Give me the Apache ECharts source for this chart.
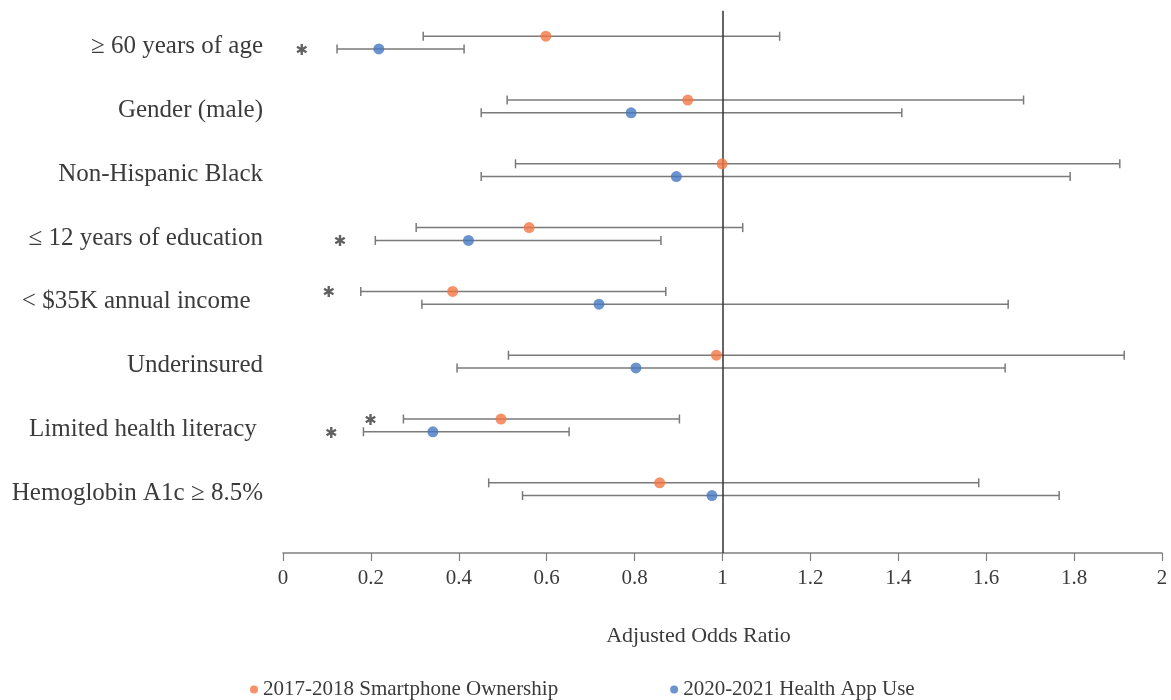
<!DOCTYPE html>
<html>
<head>
<meta charset="utf-8">
<script src="https://cdn.jsdelivr.net/npm/echarts@6/dist/echarts.min.js"></script>
<style>
  html, body { margin: 0; padding: 0; background: #fff; }
  #chart { width: 1171px; height: 700px; }
</style>
</head>
<body>
<div id="chart"></div>
<script>
// rows, top to bottom
const categories = [
  '\u2265 60 years of age',
  'Gender (male)',
  'Non-Hispanic Black',
  '\u2264 12 years of education',
  '< $35K annual income  ',
  'Underinsured',
  'Limited health literacy ',
  'Hemoglobin A1c \u2265 8.5%'
];

// 2017-2018 smartphone ownership: odds ratio, lower CI, upper CI
const phoneOR = [0.598, 0.921, 0.999, 0.560, 0.386, 0.986, 0.496, 0.857];
const phoneLo = [0.319, 0.510, 0.529, 0.303, 0.177, 0.513, 0.274, 0.468];
const phoneHi = [1.130, 1.685, 1.904, 1.046, 0.871, 1.914, 0.902, 1.583];

// 2020-2021 health app use
const appOR = [0.218, 0.792, 0.895, 0.422, 0.719, 0.803, 0.341, 0.976];
const appLo = [0.123, 0.451, 0.451, 0.210, 0.316, 0.396, 0.183, 0.545];
const appHi = [0.412, 1.408, 1.791, 0.860, 1.650, 1.643, 0.651, 1.766];

// significance markers: [x position, row index, which series]
const stars = [
  [0.043, 0, 'app'],
  [0.130, 3, 'app'],
  [0.104, 4, 'phone'],
  [0.199, 6, 'phone'],
  [0.110, 6, 'app']
];

const seriesNames = ['2017-2018 Smartphone Ownership', '2020-2021 Health App Use'];
const xTicks = ['0', '0.2', '0.4', '0.6', '0.8', '1', '1.2', '1.4', '1.6', '1.8', '2'];

const FONT = '"Liberation Serif", "Times New Roman", serif';
const TXT = '#3b3b3b';
const ORANGE = '#f47744';
const BLUE = '#4679c2';
const BAR = '#7a7a7a';
const OFFSET = 0.1;

const n = categories.length;
const rowY = i => n - i;

function barData(lo, hi, off) {
  return lo.map((l, i) => [l, hi[i], rowY(i) + off]);
}
function dotData(or, off) {
  return or.map((v, i) => [v, rowY(i) + off]);
}

function renderBar(params, api) {
  const lo = api.coord([api.value(0), api.value(2)]);
  const hi = api.coord([api.value(1), api.value(2)]);
  const cap = 4.5;
  const style = { stroke: BAR, lineWidth: 1.5 };
  return {
    type: 'group',
    children: [
      { type: 'line', shape: { x1: lo[0], y1: lo[1], x2: hi[0], y2: hi[1] }, style: style },
      { type: 'line', shape: { x1: lo[0], y1: lo[1] - cap, x2: lo[0], y2: lo[1] + cap }, style: style },
      { type: 'line', shape: { x1: hi[0], y1: hi[1] - cap, x2: hi[0], y2: hi[1] + cap }, style: style }
    ]
  };
}

const chart = echarts.init(document.getElementById('chart'));

const option = {
  animation: false,
  grid: { left: 283, right: 9, top: 10.7, bottom: 147 },
  legend: {
    data: seriesNames,
    left: 245,
    top: 674,
    icon: 'circle',
    itemWidth: 8,
    itemHeight: 8,
    itemGap: 112,
    textStyle: { fontFamily: FONT, fontSize: 21, color: TXT }
  },
  xAxis: {
    type: 'value',
    min: 0,
    max: 2,
    interval: 0.2,
    name: 'Adjusted Odds Ratio',
    nameLocation: 'middle',
    nameGap: 72,
    nameTextStyle: { fontFamily: FONT, fontSize: 22, color: TXT, padding: [0, 48, 0, 0] },
    axisLine: { lineStyle: { color: '#808080', width: 1.5 } },
    axisTick: { show: true, length: 8, lineStyle: { color: '#808080', width: 1.2 } },
    axisLabel: {
      margin: 15,
      fontFamily: FONT,
      fontSize: 21,
      color: TXT,
      formatter: v => xTicks[Math.round(v * 5)]
    },
    splitLine: { show: false }
  },
  yAxis: {
    type: 'value',
    min: 0,
    max: n + 0.5,
    interval: 1,
    axisLine: { show: false },
    axisTick: { show: false },
    splitLine: { show: false },
    axisLabel: {
      margin: 20,
      fontFamily: FONT,
      fontSize: 25,
      color: TXT,
      verticalAlign: 'top',
      lineHeight: 8,
      formatter: v => (Number.isInteger(v) && v >= 1 && v <= n) ? categories[n - v] : ''
    }
  },
  series: [
    {
      name: 'phoneCI',
      type: 'custom',
      renderItem: renderBar,
      encode: { x: [0, 1], y: 2 },
      data: barData(phoneLo, phoneHi, OFFSET),
      z: 2,
      markLine: {
        silent: true,
        symbol: 'none',
        label: { show: false },
        lineStyle: { color: '#333', width: 1.5, type: 'solid' },
        data: [{ xAxis: 1 }]
      }
    },
    {
      name: 'appCI',
      type: 'custom',
      renderItem: renderBar,
      encode: { x: [0, 1], y: 2 },
      data: barData(appLo, appHi, -OFFSET),
      z: 2
    },
    {
      name: seriesNames[0],
      type: 'scatter',
      symbolSize: 11,
      itemStyle: { color: ORANGE },
      data: dotData(phoneOR, OFFSET),
      z: 5
    },
    {
      name: seriesNames[1],
      type: 'scatter',
      symbolSize: 11,
      itemStyle: { color: BLUE },
      data: dotData(appOR, -OFFSET),
      z: 5
    },
    {
      name: 'stars',
      type: 'scatter',
      symbolSize: 1,
      itemStyle: { color: 'rgba(0,0,0,0)' },
      data: stars.map(s => [s[0], rowY(s[1]) + (s[2] === 'phone' ? OFFSET : -OFFSET)]),
      label: {
        show: true,
        position: 'inside',
        formatter: '\u2731',
        fontFamily: 'DejaVu Sans',
        fontSize: 15,
        color: '#3a3a3a',
        offset: [0, 2]
      },
      z: 6
    }
  ]
};

chart.setOption(option);
</script>
</body>
</html>
